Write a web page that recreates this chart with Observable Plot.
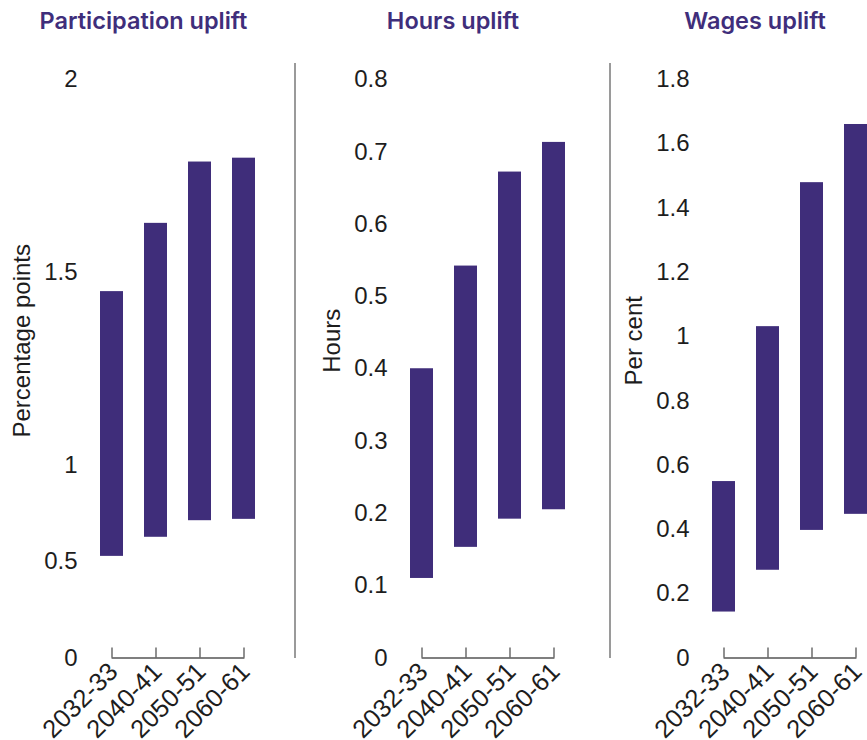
<!DOCTYPE html>
<html>
<head>
<meta charset="utf-8">
<script src="https://cdn.jsdelivr.net/npm/d3@7"></script>
<script src="https://cdn.jsdelivr.net/npm/@observablehq/plot@0.6"></script>
<style>
  html, body { margin: 0; padding: 0; background: #fff; overflow: hidden; width: 867px; height: 740px; }
  #wrap { position: relative; width: 1000px; height: 740px; }
  .panel { position: absolute; top: 0; }
  .title { position: absolute; top: 9px; font-family: Inter, sans-serif; font-weight: 600; font-size: 23.5px; line-height: 24px; color: #3f2e7b; white-space: nowrap; transform: translateX(-50%); }
  .sep { position: absolute; top: 63px; height: 595px; width: 1.5px; background: #9a9a9a; }
</style>
</head>
<body>
<div id="wrap"></div>
<script>
const periods = ["2032-33", "2040-41", "2050-51", "2060-61"];

const participationLow  = [0.527, 0.626, 0.712, 0.719];
const participationHigh = [1.450, 1.627, 1.786, 1.796];
const hoursLow  = [0.110, 0.153, 0.192, 0.205];
const hoursHigh = [0.400, 0.542, 0.672, 0.713];
const wagesLow  = [0.143, 0.273, 0.397, 0.447];
const wagesHigh = [0.549, 1.031, 1.479, 1.660];

const participationTicks = [0, 0.5, 1, 1.5, 2];
const hoursTicks = [0, 0.1, 0.2, 0.3, 0.4, 0.5, 0.6, 0.7, 0.8];
const wagesTicks = [0, 0.2, 0.4, 0.6, 0.8, 1, 1.2, 1.4, 1.6, 1.8];

const titles = ["Participation uplift", "Hours uplift", "Wages uplift"];
const yLabels = ["Percentage points", "Hours", "Per cent"];

const PURPLE = "#3f2d7a";

const panels = [
  {lows: participationLow, highs: participationHigh, domain: [0, 1, 1.5, 2], ticks: participationTicks, left: 0, titleX: 143.5},
  {lows: hoursLow, highs: hoursHigh, domain: [0, 0.8], ticks: hoursTicks, left: 309.5, titleX: 453},
  {lows: wagesLow, highs: wagesHigh, domain: [0, 1.8], ticks: wagesTicks, left: 612.3, titleX: 755}
];

const wrap = document.getElementById("wrap");

panels.forEach((p, k) => {
  const data = periods.map((period, i) => ({period, lo: p.lows[i], hi: p.highs[i]}));
  const chart = Plot.plot({
    width: 295,
    height: 740,
    marginTop: 79,
    marginBottom: 82.5,
    marginLeft: 85,
    marginRight: 25.6,
    style: {fontFamily: "'Liberation Sans', Arial, sans-serif", fontSize: "24px", color: "#1d1d1d", background: "transparent", overflow: "visible"},
    x: {type: "band", domain: periods, paddingInner: 0.484, paddingOuter: 0.31},
    y: {type: "linear", domain: p.domain},
    marks: [
      Plot.barY(data, {x: "period", y1: "lo", y2: "hi", fill: PURPLE}),
      Plot.line(periods, {x: d => d, y: () => 0, stroke: "#555", strokeWidth: 1.3}),
      Plot.axisX({tickSize: 10, dy: -10, tickFormat: () => "", stroke: "#555", strokeWidth: 1.3, label: null}),
      Plot.axisX({tickSize: 0, tickRotate: -45, tickPadding: 9.5, dx: 1.5, fontSize: 25.5, label: null}),
      Plot.axisY({ticks: p.ticks, tickSize: 0, tickPadding: 8, label: null, tickFormat: d => String(d)}),
      Plot.text([yLabels[k]], {frameAnchor: "left", textAnchor: "middle", rotate: -90, dx: -63, dy: -28, fontSize: 24, fill: "#1d1d1d"})
    ]
  });
  const div = document.createElement("div");
  div.className = "panel";
  div.style.left = p.left + "px";
  div.appendChild(chart);
  wrap.appendChild(div);

  const t = document.createElement("div");
  t.className = "title";
  t.style.left = p.titleX + "px";
  t.textContent = titles[k];
  wrap.appendChild(t);
});

[295, 610].forEach(x => {
  const s = document.createElement("div");
  s.className = "sep";
  s.style.left = (x - 0.75) + "px";
  wrap.appendChild(s);
});
</script>
</body>
</html>
